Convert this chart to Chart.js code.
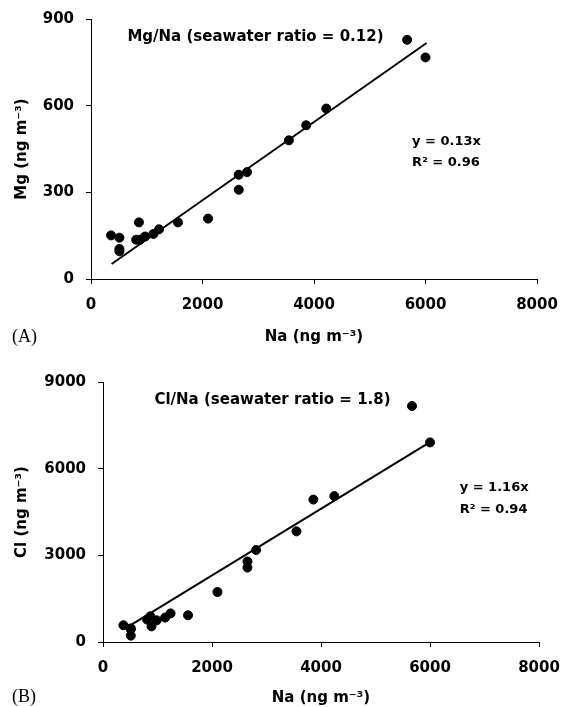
<!DOCTYPE html>
<html>
<head>
<meta charset="utf-8">
<script src="https://cdn.jsdelivr.net/npm/chart.js@4"></script>
<style>
  body { margin: 0; background: #fff; }
  #wrap { position: relative; width: 561px; height: 707px; }
  canvas { position: absolute; left: 0; }
  #chartA { top: 0; }
  #chartB { top: 353px; }
  .tag { position: absolute; left: 12px; font: 18px "Liberation Serif", serif; color: #000; }
</style>
</head>
<body>
<div id="wrap">
  <canvas id="chartA" width="561" height="353"></canvas>
  <canvas id="chartB" width="561" height="354"></canvas>
  <div class="tag" style="top:326px">(A)</div>
  <div class="tag" style="top:686px">(B)</div>
</div>
<script>
// Panel A: Mg vs Na
const naA = [360, 510, 510, 510, 810, 860, 880, 970, 1120, 1220, 1560, 2100, 2650, 2650, 2800, 3550, 3860, 4220, 5670, 6000];
const mgA = [151, 143, 104, 96, 136, 196, 136, 147, 156, 172, 196, 209, 361, 309, 370, 480, 532, 590, 828, 767];
const fitXA = [370, 6020];
const fitYA = [52, 817];

// Panel B: Cl vs Na
const naB = [375, 510, 510, 510, 810, 870, 890, 985, 1140, 1240, 1560, 2100, 2650, 2650, 2810, 3550, 3860, 4245, 5670, 6000];
const clB = [580, 440, 470, 220, 775, 890, 540, 750, 845, 990, 925, 1730, 2790, 2575, 3185, 3830, 4930, 5050, 8170, 6910];
const fitXB = [500, 6000];
const fitYB = [575, 6920];

const xTicks = [0, 2000, 4000, 6000, 8000];
const yTicksA = [0, 300, 600, 900];
const yTicksB = [0, 3000, 6000, 9000];

const FONT = "'DejaVu Sans', sans-serif";

const toPoints = (xs, ys) => xs.map((x, i) => ({ x: x, y: ys[i] }));

// draws text labels placed at data coordinates
const textPlugin = {
  id: "texts",
  afterDatasetsDraw(chart, args, opts) {
    const ctx = chart.ctx;
    ctx.save();
    ctx.fillStyle = "#000";
    ctx.textBaseline = "middle";
    opts.items.forEach(t => {
      ctx.font = "bold " + t.size + "px " + FONT;
      ctx.textAlign = t.align;
      ctx.fillText(t.text, chart.scales.x.getPixelForValue(t.x), chart.scales.y.getPixelForValue(t.y));
    });
    ctx.restore();
  }
};

function makeChart(id, xs, ys, fx, fy, yTicks, yTitle, pad, yWidth, xHeight, texts) {
  return new Chart(document.getElementById(id), {
    type: "scatter",
    data: {
      datasets: [
        {
          data: toPoints(xs, ys),
          backgroundColor: "#000",
          borderColor: "#000",
          pointRadius: 4.5,
          pointHoverRadius: 4.5,
        },
        {
          data: toPoints(fx, fy),
          showLine: true,
          borderColor: "#000",
          borderWidth: 2,
          pointRadius: 0,
        },
      ],
    },
    options: {
      responsive: false,
      animation: false,
      devicePixelRatio: 1,
      layout: { padding: pad },
      plugins: {
        legend: { display: false },
        tooltip: { enabled: false },
        texts: { items: texts },
      },
      scales: {
        x: {
          type: "linear",
          min: 0,
          max: 8000,
          afterBuildTicks: s => { s.ticks = xTicks.map(v => ({ value: v })); },
          afterFit: s => { s.height = xHeight; s.paddingLeft = 0; s.paddingRight = 0; },
          ticks: { color: "#000", padding: 12, callback: v => String(v), font: { family: FONT, size: 15, weight: "bold" } },
          grid: { display: true, drawOnChartArea: false, drawTicks: true, tickLength: 5, color: "#000" },
          border: { display: true, color: "#000", width: 1 },
          title: {
            display: true,
            text: "Na (ng m⁻³)",
            color: "#000",
            font: { family: FONT, size: 15, weight: "bold" },
            padding: { top: 0, bottom: pad.titleBottom },
          },
        },
        y: {
          type: "linear",
          min: yTicks[0],
          max: yTicks[yTicks.length - 1],
          afterBuildTicks: s => { s.ticks = yTicks.map(v => ({ value: v })); },
          afterFit: s => { s.width = yWidth; s.paddingTop = 0; s.paddingBottom = 0; },
          ticks: { color: "#000", padding: 12, callback: v => String(v), font: { family: FONT, size: 15, weight: "bold" } },
          grid: { display: true, drawOnChartArea: false, drawTicks: true, tickLength: 5, color: "#000" },
          border: { display: true, color: "#000", width: 1 },
          title: {
            display: true,
            text: yTitle,
            color: "#000",
            font: { family: FONT, size: 15, weight: "bold" },
            padding: { top: 13, bottom: 0 },
          },
        },
      },
    },
    plugins: [textPlugin],
  });
}

makeChart("chartA", naA, mgA, fitXA, fitYA, yTicksA, "Mg (ng m⁻³)",
  { top: 19, right: 24, bottom: 0, left: 0, titleBottom: 7 }, 91, 74,
  [
    { text: "Mg/Na (seawater ratio = 0.12)", x: 2950, y: 839, size: 15, align: "center" },
    { text: "y = 0.13x", x: 5760, y: 476, size: 13, align: "left" },
    { text: "R² = 0.96", x: 5760, y: 404, size: 13, align: "left" },
  ]);

makeChart("chartB", naB, clB, fitXB, fitYB, yTicksB, "Cl (ng m⁻³)",
  { top: 29, right: 22, bottom: 0, left: 0, titleBottom: 0 }, 103, 65,
  [
    { text: "Cl/Na (seawater ratio = 1.8)", x: 3110, y: 8390, size: 15, align: "center" },
    { text: "y = 1.16x", x: 6545, y: 5330, size: 13, align: "left" },
    { text: "R² = 0.94", x: 6545, y: 4590, size: 13, align: "left" },
  ]);
</script>
</body>
</html>
